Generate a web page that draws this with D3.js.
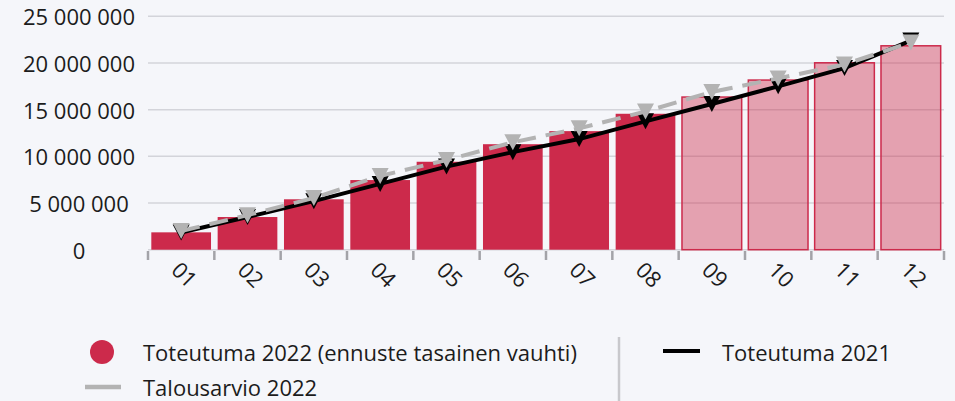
<!DOCTYPE html>
<html>
<head>
<meta charset="utf-8">
<script src="https://cdn.jsdelivr.net/npm/d3@7"></script>
<style>
  body { margin: 0; background: #f5f6fa; }
  svg { display: block; font-family: "Open Sans", "Noto Sans", sans-serif; }
</style>
</head>
<body>
<svg width="955" height="401"></svg>
<script>
// --- Data ---
const months = ['01', '02', '03', '04', '05', '06', '07', '08', '09', '10', '11', '12'];
const actual2022 = [1860000, 3500000, 5400000, 7460000, 9420000, 11300000, 12700000, 14560000, 16350000, 18170000, 20020000, 21840000];
const forecastFrom = 8; // months 09..12 are forecast (ennuste)
const budget2022 = [2000000, 3700000, 5550000, 7900000, 9600000, 11500000, 13000000, 14800000, 16900000, 18350000, 19850000, 22200000];
const actual2021 = [1850000, 3500000, 5200000, 7050000, 8900000, 10450000, 11850000, 13750000, 15600000, 17500000, 19450000, 22400000];
const yTicks = [0, 5000000, 10000000, 15000000, 20000000, 25000000];

const svg = d3.select('svg');
const width = +svg.attr('width');
const height = +svg.attr('height');

const red = '#cc2a4b';
const grey = '#b3b3b3';

// --- Scales ---
const x = d3.scaleBand()
  .domain(months)
  .range([148, 944])
  .paddingInner(0.1)
  .paddingOuter(0.05);

const y = d3.scaleLinear()
  .domain([0, 25000000])
  .range([249.7, 16.3]);

const fmt = v => d3.format(',')(v).replace(/,/g, ' ');

// --- Grid ---
svg.append('g')
  .selectAll('line')
  .data(yTicks)
  .join('line')
  .attr('x1', 148)
  .attr('x2', 944)
  .attr('y1', d => y(d))
  .attr('y2', d => y(d))
  .attr('stroke', '#d3d4da')
  .attr('stroke-width', 1.5);

// --- Y labels ---
svg.append('g')
  .selectAll('text')
  .data(yTicks)
  .join('text')
  .attr('x', 79)
  .attr('y', d => y(d))
  .attr('text-anchor', 'middle')
  .attr('dominant-baseline', 'central')
  .attr('font-size', 22)
  .attr('fill', '#1c1c1c')
  .text(fmt);

// --- Bars ---
svg.append('g')
  .selectAll('rect')
  .data(actual2022)
  .join('rect')
  .attr('x', (d, i) => x(months[i]))
  .attr('y', d => y(d))
  .attr('width', x.bandwidth())
  .attr('height', d => y(0) - y(d))
  .attr('fill', red)
  .attr('fill-opacity', (d, i) => i >= forecastFrom ? 0.42 : 1)
  .attr('stroke', (d, i) => i >= forecastFrom ? red : 'none')
  .attr('stroke-width', 1.5);

// --- X ticks + labels ---
const step = x.step();
svg.append('g')
  .selectAll('line')
  .data(d3.range(months.length + 1))
  .join('line')
  .attr('x1', i => 148 + i * step)
  .attr('x2', i => 148 + i * step)
  .attr('y1', 251)
  .attr('y2', 260)
  .attr('stroke', '#a3a3a8')
  .attr('stroke-width', 2.5);

svg.append('g')
  .selectAll('text')
  .data(months)
  .join('text')
  .attr('transform', d => `translate(${x(d) + x.bandwidth() / 2 + 4},274) rotate(45)`)
  .attr('text-anchor', 'middle')
  .attr('dominant-baseline', 'central')
  .attr('font-size', 22)
  .attr('fill', '#1c1c1c')
  .text(d => d);

// --- Lines ---
const cxOf = i => x(months[i]) + x.bandwidth() / 2;
const line = d3.line().x((d, i) => cxOf(i)).y(d => y(d));
const tri = 'M-8.5,-8L8.5,-8L0,8Z';

const drawSeries = (data, color, dash) => {
  const g = svg.append('g');
  g.append('path')
    .datum(data)
    .attr('d', line)
    .attr('fill', 'none')
    .attr('stroke', color)
    .attr('stroke-width', 4)
    .attr('stroke-dasharray', dash || null);
  g.selectAll('path.m')
    .data(data)
    .join('path')
    .attr('class', 'm')
    .attr('d', tri)
    .attr('transform', (d, i) => `translate(${cxOf(i)},${y(d)})`)
    .attr('fill', color);
};

drawSeries(actual2021, '#000', null);
drawSeries(budget2022, grey, '19,10');

// --- Legend ---
const legend = svg.append('g').attr('font-size', 22).attr('fill', '#1c1c1c');

legend.append('circle')
  .attr('cx', 102).attr('cy', 352).attr('r', 12)
  .attr('fill', red);
legend.append('text')
  .attr('x', 143).attr('y', 352)
  .attr('dominant-baseline', 'central')
  .text('Toteutuma 2022 (ennuste tasainen vauhti)');

legend.append('line')
  .attr('x1', 85).attr('x2', 121).attr('y1', 387).attr('y2', 387)
  .attr('stroke', grey).attr('stroke-width', 4.5);
legend.append('text')
  .attr('x', 143).attr('y', 387)
  .attr('dominant-baseline', 'central')
  .text('Talousarvio 2022');

legend.append('line')
  .attr('x1', 619).attr('x2', 619).attr('y1', 337).attr('y2', height)
  .attr('stroke', '#c8c8cc').attr('stroke-width', 2.5);

legend.append('line')
  .attr('x1', 663).attr('x2', 700).attr('y1', 351).attr('y2', 351)
  .attr('stroke', '#000').attr('stroke-width', 4);
legend.append('text')
  .attr('x', 722).attr('y', 352)
  .attr('dominant-baseline', 'central')
  .text('Toteutuma 2021');
</script>
</body>
</html>
